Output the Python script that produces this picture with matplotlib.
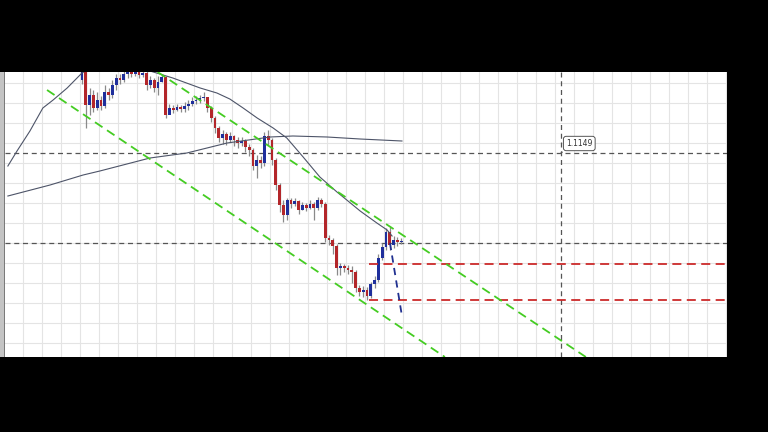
import matplotlib
matplotlib.use("Agg")
import matplotlib.pyplot as plt
import numpy as np
from matplotlib.patches import Rectangle

# candle data (bar index 0..84), prices
first_open = 1.11563
closes = [1.11573, 1.11538, 1.11548, 1.11535, 1.11543, 1.11537, 1.11551, 1.11548, 1.11558, 1.11565,
          1.11563, 1.11569, 1.11571, 1.11569, 1.11571, 1.11568, 1.11570, 1.11558, 1.11563, 1.11555,
          1.11561, 1.11566, 1.11528, 1.11535, 1.11533, 1.11536, 1.11534, 1.11537, 1.11539, 1.11542,
          1.11543, 1.11545, 1.11546, 1.11535, 1.11525, 1.11515, 1.11505, 1.11509, 1.11503, 1.11507,
          1.11503, 1.11500, 1.11502, 1.11496, 1.11493, 1.11477, 1.11483, 1.11480, 1.11507, 1.11503,
          1.11483, 1.11458, 1.11438, 1.11428, 1.11443, 1.11439, 1.11442, 1.11433, 1.11438, 1.11435,
          1.11439, 1.11435, 1.11443, 1.11439, 1.11405, 1.11403, 1.11397, 1.11375, 1.11377, 1.11375,
          1.11373, 1.11371, 1.11355, 1.11351, 1.11353, 1.11347, 1.11359, 1.11363, 1.11385, 1.11396,
          1.11411, 1.11398, 1.11403, 1.11401, 1.11402]
highs = [1.11583, 1.11578, 1.11555, 1.11553, 1.11551, 1.11547, 1.11558, 1.11555, 1.11563, 1.11569,
         1.11569, 1.11573, 1.11575, 1.11575, 1.11575, 1.11573, 1.11575, 1.11573, 1.11567, 1.11565,
         1.11567, 1.11569, 1.11567, 1.11539, 1.11538, 1.11539, 1.11538, 1.11541, 1.11543, 1.11546,
         1.11547, 1.11548, 1.11551, 1.11546, 1.11537, 1.11527, 1.11517, 1.11513, 1.11511, 1.11511,
         1.11508, 1.11506, 1.11506, 1.11504, 1.11499, 1.11495, 1.11488, 1.11487, 1.11511, 1.11513,
         1.11505, 1.11485, 1.11460, 1.11443, 1.11445, 1.11445, 1.11445, 1.11443, 1.11441, 1.11440,
         1.11443, 1.11441, 1.11446, 1.11445, 1.11441, 1.11408, 1.11405, 1.11399, 1.11380, 1.11379,
         1.11378, 1.11377, 1.11373, 1.11358, 1.11357, 1.11356, 1.11361, 1.11367, 1.11389, 1.11400,
         1.11415, 1.11416, 1.11407, 1.11406, 1.11405]
lows = [1.11559, 1.11515, 1.11528, 1.11531, 1.11533, 1.11533, 1.11535, 1.11543, 1.11545, 1.11553,
        1.11559, 1.11561, 1.11565, 1.11566, 1.11567, 1.11565, 1.11566, 1.11553, 1.11555, 1.11551,
        1.11548, 1.11561, 1.11525, 1.11529, 1.11530, 1.11532, 1.11531, 1.11531, 1.11533, 1.11537,
        1.11539, 1.11540, 1.11542, 1.11531, 1.11521, 1.11510, 1.11501, 1.11499, 1.11498, 1.11501,
        1.11497, 1.11495, 1.11497, 1.11491, 1.11487, 1.11473, 1.11465, 1.11475, 1.11477, 1.11498,
        1.11478, 1.11453, 1.11431, 1.11421, 1.11423, 1.11435, 1.11437, 1.11429, 1.11433, 1.11432,
        1.11434, 1.11423, 1.11433, 1.11436, 1.11401, 1.11398, 1.11389, 1.11368, 1.11368, 1.11371,
        1.11369, 1.11360, 1.11351, 1.11347, 1.11346, 1.11343, 1.11345, 1.11355, 1.11361, 1.11383,
        1.11393, 1.11393, 1.11395, 1.11397, 1.11399]

# moving averages (bar index, price)
ma_fast_x = [-19.5, -17.1, -13.7, -10.3, -7.6, -3.9, 0, 4.7, 11.3, 15.3, 17.9, 23.9, 31.1, 35.5,
             38.9, 42.4, 46.1, 50.3, 53.9, 58.2, 62.6, 67.1, 70, 73.2, 77.6, 80.3, 81.6]
ma_fast_y = [1.11477, 1.11492, 1.11512, 1.11535, 1.11543, 1.11555, 1.11570, 1.11581, 1.11587,
             1.11581, 1.11572, 1.11565, 1.11555, 1.11550, 1.11544, 1.11535, 1.11525, 1.11515,
             1.11505, 1.11486, 1.11466, 1.11451, 1.11442, 1.11432, 1.11420, 1.11413, 1.11407]
ma_slow_x = [-19.5, -8.4, 0.3, 4.7, 17.9, 27.6, 38.2, 49.5, 55.5, 64.5, 73.2, 84.2]
ma_slow_y = [1.11447, 1.11458, 1.11468, 1.11472, 1.11485, 1.11490, 1.11500, 1.11506, 1.11507,
             1.11506, 1.11504, 1.11502]

# drawn objects
level_top = 1.1149
level_mid = 1.1140
red_levels = [1.11379, 1.11343]
red_start = 75.5
vline_bar = 126
chan_upper_x = [19.9, 132.6]
chan_upper_y = [1.11571, 1.11286]
chan_lower_x = [-9.2, 95.5]
chan_lower_y = [1.11553, 1.11286]
proj_x = [81.05, 84.2]
proj_y = [1.11400, 1.11327]
label_text = "1.1149"

xmin, xmax = -20.26, 169.74
ymin, ymax = 1.11286, 1.11571

fig = plt.figure(figsize=(7.68, 4.32), dpi=100, facecolor="black")
ax = fig.add_axes([5 / 768, 75 / 432, 722 / 768, 285 / 432])
ax.set_facecolor("white")
fig.patches.append(Rectangle((0, 75 / 432), 4 / 768, 285 / 432, transform=fig.transFigure,
                             facecolor="#c4c4c4", edgecolor="none"))
fig.patches.append(Rectangle((4 / 768, 75 / 432), 1 / 768, 285 / 432, transform=fig.transFigure,
                             facecolor="#7a7a7a", edgecolor="none"))

# grid
for gx in np.arange(-15.6, xmax, 5):
    ax.axvline(gx, color="#e4e4e4", lw=0.8, zorder=0)
for gy in np.arange(1.1130, ymax, 0.0002):
    ax.axhline(gy, color="#e4e4e4", lw=0.8, zorder=0)

# candles
opens = [first_open] + closes[:-1]
idx = np.arange(len(closes))
ax.vlines(idx, lows, highs, color="#8a8a8a", lw=0.9, zorder=2)
for i in idx:
    o, c = opens[i], closes[i]
    col = "#1f2f9c" if c >= o else "#b3262a"
    h = max(abs(c - o), 0.000012)
    ax.bar(i, h, bottom=min(o, c), width=0.75, color=col, zorder=3)

# moving averages
ax.plot(ma_fast_x, ma_fast_y, color="#4d5468", lw=0.8, zorder=4)
ax.plot(ma_slow_x, ma_slow_y, color="#4d5468", lw=0.8, zorder=4)

# levels
ax.axhline(level_top, color="#555555", lw=0.9, ls=(0, (4, 3)), zorder=1)
ax.axhline(level_mid, color="#555555", lw=0.9, ls=(0, (4, 3)), zorder=1)
ax.axvline(vline_bar, color="#555555", lw=0.9, ls=(0, (4, 3)), zorder=1)
for lv in red_levels:
    ax.plot([red_start, xmax], [lv, lv], color="#cc2a2a", lw=1.3, ls=(0, (5, 3)), zorder=5)

# channel
ax.plot(chan_upper_x, chan_upper_y, color="#44cc22", lw=1.3, ls=(0, (5, 3)), zorder=5)
ax.plot(chan_lower_x, chan_lower_y, color="#44cc22", lw=1.3, ls=(0, (5, 3)), zorder=5)
ax.plot(proj_x, proj_y, color="#203090", lw=1.3, ls=(0, (4, 3)), zorder=5)

ax.annotate(label_text, xy=(vline_bar, level_top), xytext=(vline_bar + 1.4, level_top + 0.00005),
            fontsize=5.5, color="#333333", ha="left", va="bottom",
            bbox=dict(boxstyle="round,pad=0.35", fc="white", ec="#555555", lw=0.7),
            arrowprops=dict(arrowstyle="-", color="#555555", lw=0.7), zorder=6)

ax.set_xlim(xmin, xmax)
ax.set_ylim(ymin, ymax)
ax.set_xticks([])
ax.set_yticks([])
for s in ax.spines.values():
    s.set_visible(False)

fig.savefig("out.png", dpi=100, facecolor="black")
